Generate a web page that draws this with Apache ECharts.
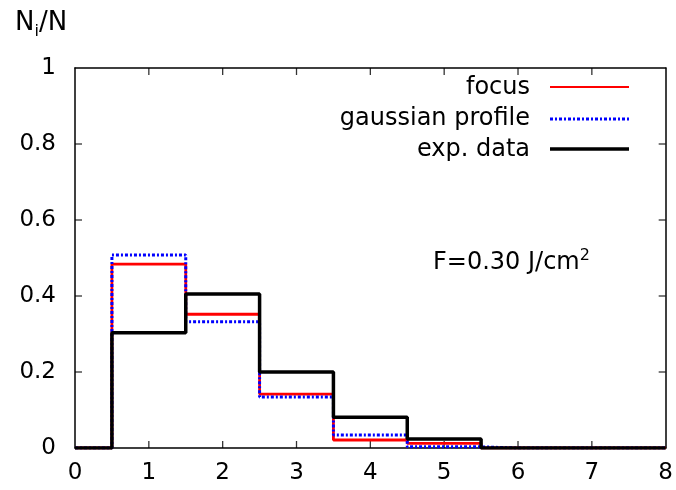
<!DOCTYPE html>
<html>
<head>
<meta charset="utf-8">
<script src="https://cdn.jsdelivr.net/npm/echarts@6/dist/echarts.min.js"></script>
<style>html,body{margin:0;padding:0;background:#fff}#c{width:676px;height:490px}</style>
</head>
<body>
<div id="c"></div>
<script>
var xValues = [0, 1, 2, 3, 4, 5, 6, 7, 8];
var focus = [0, 0.484, 0.352, 0.142, 0.021, 0.012, 0, 0, 0];
var gaussian = [0, 0.508, 0.332, 0.134, 0.034, 0.003, 0, 0, 0];
var expData = [0, 0.303, 0.405, 0.200, 0.081, 0.024, 0, 0, 0];
var legendNames = ['focus', 'gaussian profile', 'exp. data'];
var xTicks = [1, 2, 3, 4, 5, 6, 7];
var yTicks = [0.2, 0.4, 0.6, 0.8];

function pairs(arr) { return xValues.map(function (x, i) { return [x, arr[i]]; }); }

var FONT = 'DejaVu Sans';
var chart = echarts.init(document.getElementById('c'), null, { renderer: 'canvas' });
var lineOn = { show: true, onZero: false, lineStyle: { color: '#000', width: 1.5 } };
var tickOff = { show: false };
var noLabel = { show: false };

function tickSeries(data, size, offset) {
  return { type: 'scatter', data: data, symbol: 'rect', symbolSize: size, symbolOffset: offset,
    itemStyle: { color: '#000' }, clip: false, silent: true, z: 1 };
}

chart.setOption({
  animation: false,
  backgroundColor: '#fff',
  grid: { left: 75, right: 10, top: 68, bottom: 42, containLabel: false },
  xAxis: [
    { type: 'value', min: 0, max: 8, interval: 1, position: 'bottom',
      axisLine: lineOn, axisTick: tickOff, splitLine: { show: false },
      axisLabel: { color: '#000', fontFamily: FONT, fontSize: 23, margin: 14 } },
    { type: 'value', min: 0, max: 8, interval: 1, position: 'top',
      axisLine: lineOn, axisTick: tickOff, splitLine: { show: false }, axisLabel: noLabel }
  ],
  yAxis: [
    { type: 'value', min: 0, max: 1, interval: 0.2, position: 'left',
      axisLine: lineOn, axisTick: tickOff, splitLine: { show: false },
      axisLabel: { color: '#000', fontFamily: FONT, fontSize: 23, margin: 19 } },
    { type: 'value', min: 0, max: 1, interval: 0.2, position: 'right',
      axisLine: lineOn, axisTick: tickOff, splitLine: { show: false }, axisLabel: noLabel }
  ],
  series: [
    tickSeries(xTicks.map(function (v) { return [v, 0]; }), [1.3, 7], [0, -3.5]),
    tickSeries(xTicks.map(function (v) { return [v, 1]; }), [1.3, 7], [0, 3.5]),
    tickSeries(yTicks.map(function (v) { return [0, v]; }), [7, 1.3], [3.5, 0]),
    tickSeries(yTicks.map(function (v) { return [8, v]; }), [7, 1.3], [-3.5, 0]),
    { name: legendNames[0], type: 'line', step: 'middle', data: pairs(focus), symbol: 'none', z: 2,
      lineStyle: { color: '#ff0000', width: 2.8 } },
    { name: legendNames[1], type: 'line', step: 'middle', data: pairs(gaussian), symbol: 'none', z: 3,
      lineStyle: { color: '#0000ff', width: 3, type: [3, 2, 2, 2] } },
    { name: legendNames[2], type: 'line', step: 'middle', data: pairs(expData), symbol: 'none', z: 4,
      lineStyle: { color: '#000000', width: 3.5 } }
  ],
  graphic: [
    { type: 'text', left: 15, top: 10, style: {
        text: '{n|N}{s|i}{n|/N}', fill: '#000',
        rich: { n: { fontFamily: FONT, fontSize: 26, fill: '#000' },
                s: { fontFamily: FONT, fontSize: 16, fill: '#000', verticalAlign: 'bottom', padding: [18, 0, 0, 0] } } } },
    { type: 'text', x: 530, y: 88, style: { text: legendNames[0], fontFamily: FONT, fontSize: 24, fill: '#000', align: 'right', verticalAlign: 'middle' } },
    { type: 'text', x: 530, y: 119, style: { text: legendNames[1], fontFamily: FONT, fontSize: 24, fill: '#000', align: 'right', verticalAlign: 'middle' } },
    { type: 'text', x: 530, y: 150, style: { text: legendNames[2], fontFamily: FONT, fontSize: 24, fill: '#000', align: 'right', verticalAlign: 'middle' } },
    { type: 'line', shape: { x1: 550, y1: 87, x2: 629, y2: 87 }, style: { stroke: '#ff0000', lineWidth: 2 } },
    { type: 'line', shape: { x1: 550, y1: 119, x2: 629, y2: 119 }, style: { stroke: '#0000ff', lineWidth: 3, lineDash: [3, 2, 2, 2] } },
    { type: 'line', shape: { x1: 550, y1: 149, x2: 629, y2: 149 }, style: { stroke: '#000', lineWidth: 3.5 } },
    { type: 'text', x: 433, y: 263, style: {
        text: '{t|F=0.30 J/cm}{s|2}', verticalAlign: 'middle',
        rich: { t: { fontFamily: FONT, fontSize: 24, fill: '#000' },
                s: { fontFamily: FONT, fontSize: 16, fill: '#000', padding: [0, 0, 14, 0] } } } }
  ]
});
</script>
</body>
</html>
